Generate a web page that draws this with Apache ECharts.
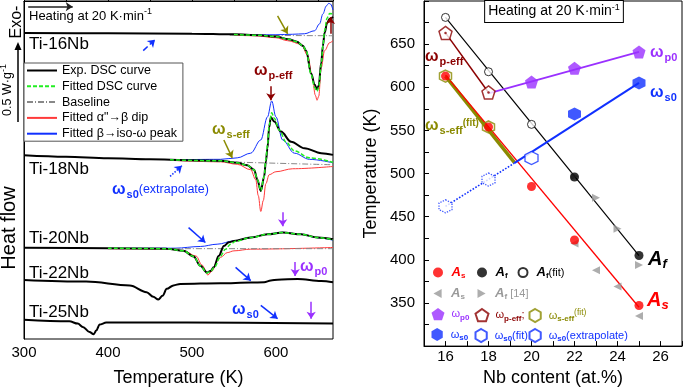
<!DOCTYPE html>
<html>
<head>
<meta charset="utf-8">
<script src="https://cdn.jsdelivr.net/npm/echarts@6/dist/echarts.min.js"></script>
<style>
html,body{margin:0;padding:0;background:#fff;}
#main{width:685px;height:392px;}
</style>
</head>
<body>
<div id="main"></div>
<script>
// ---- left panel : DSC curves [T (K), heat flow a.u. (downward = endo)] ----
var hf16Exp  = [[300,32.3],[400,32.6],[500,33],[550,33.6],[580,34.5],[600,35.8],[615,38.5],[625,41],[632,45],[636,50],[642,73],[646,84],[649,89],[651,85],[654,62],[656,45],[658,32],[661,22],[664,18],[668,16]];
var hf16Fit  = [[550,33.8],[580,34.5],[600,35.8],[615,38.5],[625,41],[632,45],[636,50],[642,74],[646,87],[649,91],[651,87],[654,64],[656,45],[658,30],[661,17],[664,12.5],[668,13]];
var hf16Base = [[545,34.5],[668,35]];
var hf16Dip  = [[550,34.5],[575,35],[600,37],[614,40],[630,43.5],[638,55],[643,75],[647,95],[649,100],[651,96],[654,67],[658,50],[664,42],[668,40]];
var hf16Peak = [[550,34.3],[600,34],[620,33.5],[634,33],[646,30],[652,23],[656,13],[660,5],[663,2.3],[665,3],[668,9]];

var hf18Exp  = [[300,155.5],[350,157],[400,158.5],[450,159.5],[500,160.5],[534,161],[554,163],[566,165.5],[574,170],[578,180],[582,191.5],[586,177],[588,162],[590,148],[592,127],[594,117],[598,121.5],[606,131.5],[618,141.7],[634,148.3],[654,153.3],[668,155]];
var hf18Fit  = [[474,160],[534,161],[554,163],[566,165.5],[574,170],[578,180],[582,191],[586,177],[588,160],[590,145],[592,125],[595,112.7],[598,118],[604,130],[612,142],[622,151],[640,158],[668,162.5]];
var hf18Base = [[474,160.5],[668,165]];
var hf18Dip  = [[474,160.5],[534,162],[554,164.5],[570,170],[576,180],[579,196],[582,212],[585,201],[588,184],[592,175],[600,172],[620,169],[668,166.7]];
var hf18Peak = [[474,160],[534,159.5],[554,158],[570,153.3],[582,140],[590,116.7],[595,100.7],[600,116.7],[608,140],[622,153.3],[640,159.5],[668,163]];

var hf20Exp  = [[300,248.5],[400,249],[470,249.5],[490,251.7],[502,257.3],[510,266.7],[518,273.5],[522,272],[526,268.3],[532,256.7],[538,246.7],[544,243],[550,241.7],[570,238.3],[590,235],[608,233.3],[630,235],[650,238.3],[668,240]];
var hf20Fit  = [[400,249],[470,249.5],[490,251.7],[502,257.3],[510,266.7],[518,274],[522,272.5],[527,268],[534,257],[540,250],[546,245],[552,242],[570,238.3],[590,235],[608,233.3],[630,235],[650,238.3],[668,240.5]];
var hf20Base = [[400,249.5],[668,249.5]];
var hf20Dip  = [[400,249.5],[470,249.8],[490,251.5],[505,257],[512,266],[519,276],[524,272],[530,262],[534,258.3],[542,253.5],[550,251.7],[570,250],[668,248.3]];
var hf20Peak = [[400,249.3],[480,249],[510,247.3],[530,245],[550,241.7],[570,238.3],[590,235],[608,233],[630,235],[650,238.5],[668,241]];

var hf22Exp  = [[300,281],[374,282.7],[426,286.7],[446,293.3],[454,298],[460,300.7],[465,297],[470,290],[478,286.5],[486,285],[534,284.3],[570,283.7],[586,283.3],[594,281.5],[602,280.7],[626,280],[654,282],[668,283.3]];
var hf25Exp  = [[300,321],[354,322.7],[364,325],[370,328.3],[378,333.5],[383,335.7],[386,332],[390,326],[398,324],[494,324],[668,325]];

// arrows on the DSC plot: [T1, y1, T2, y2, colour, line type]
var dscArrows = [
  [305,5.7,358,5.7,'#222','solid'],
  [602,15,614,33,'#8a8a00','solid'],
  [665,33,665,16,'#8b0000','solid'],
  [442,50,456,39,'#1030ff','dashed'],
  [594,86,594,100,'#8b0000','solid'],
  [538,140,548,158,'#8a8a00','solid'],
  [474,176.7,488,166,'#1030ff','dotted'],
  [496,228.3,516,243.3,'#1030ff','solid'],
  [608,212.7,608,227,'#9a30ff','solid'],
  [552,268.3,570,281.7,'#1030ff','solid'],
  [623,263,623,277,'#9a30ff','solid'],
  [582,306.7,602,320,'#1030ff','solid'],
  [642,303,642,320,'#9a30ff','solid']
];

// ---- right panel : temperatures vs Nb content ----
var nbAs     = [[16,613],[18,554],[20,485],[22,423],[25,347]];
var nbAf     = [[22,496],[25,405]];
var nbAfFit  = [[16,681],[18,618],[20,557]];
var refAs    = [[22,419],[23,388],[24,369],[25,335]];
var refAf    = [[22,497],[23,472],[24,436],[25,394]];
var wP0      = [[20,606],[22,622],[25,641]];
var wPeff    = [[16,663],[18,594]];
var wSeff    = [[16,613],[18,554]];
var wS0      = [[22,569],[25,605]];
var wS0fit   = [[20,518]];
var wS0ext   = [[16,462],[18,493]];
// fitted straight lines (end points)
var lineAf    = [[16,681],[25,405]];
var lineAs    = [[16,614],[25,345]];
var lineSeff  = [[16,613],[19.2,513]];
var linePeff  = [[16,663],[18,594]];
var lineP0    = [[18,593],[25,641]];
var lineS0    = [[19.2,512],[25,605]];
var lineS0ext = [[16,462],[19.2,512]];

var FONT = 'Liberation Sans, Arial, sans-serif';
var RED = '#ff0000', DRED = '#8b0000', OLIVE = '#8a8a00', PURPLE = '#9a30ff', BLUE = '#1030ff', GRAY = '#999999';
var HEX = 'path://M50,0 L93.3,25 L93.3,75 L50,100 L6.7,75 L6.7,25 Z';
var PENT = 'path://M50,0 L97.6,34.5 L79.4,90.5 L20.6,90.5 L2.4,34.5 Z';
var LTRI = 'path://M0,50 L90,0 L90,100 Z';
var RTRI = 'path://M90,50 L0,0 L0,100 Z';

var stExp  = {color:'#000', width:2};
var stFit  = {color:'#22ee22', width:1.5, type:[4,2]};
var stBase = {color:'#888', width:1, type:[6,2,1,2]};
var stDip  = {color:'#ff3a3a', width:1};
var stPeak = {color:'#1030ff', width:1};

var N_EXP = 'Exp. DSC curve', N_FIT = 'Fitted DSC curve', N_BASE = 'Baseline',
    N_DIP = 'Fitted α"→β dip', N_PEAK = 'Fitted β→iso-ω peak';

function curve(name, data, st, z){
  return {name:name, type:'line', xAxisIndex:0, yAxisIndex:0, data:data, symbol:'none',
    smooth:0.35, smoothMonotone:'x', lineStyle:st, itemStyle:{color:st.color}, z:z, silent:true};
}
function pts(name, data, symbol, size, itemStyle, z){
  return {name:name, type:'scatter', xAxisIndex:1, yAxisIndex:1, data:data, symbol:symbol,
    symbolSize:size, itemStyle:itemStyle, z:z, silent:true};
}
function fitLine(data, color, width, type, z){
  return {type:'line', xAxisIndex:1, yAxisIndex:1, data:data, symbol:'none',
    lineStyle:{color:color, width:width, type:type || 'solid'}, z:z, silent:true};
}

var series = [
  curve(N_PEAK, hf16Peak, stPeak, 2), curve(N_DIP, hf16Dip, stDip, 2), curve(N_BASE, hf16Base, stBase, 2),
  curve(N_EXP, hf16Exp, stExp, 3), curve(N_FIT, hf16Fit, stFit, 4),
  curve(N_PEAK, hf18Peak, stPeak, 2), curve(N_DIP, hf18Dip, stDip, 2), curve(N_BASE, hf18Base, stBase, 2),
  curve(N_EXP, hf18Exp, stExp, 3), curve(N_FIT, hf18Fit, stFit, 4),
  curve(N_PEAK, hf20Peak, stPeak, 2), curve(N_DIP, hf20Dip, stDip, 2), curve(N_BASE, hf20Base, stBase, 2),
  curve(N_EXP, hf20Exp, stExp, 3), curve(N_FIT, hf20Fit, stFit, 4),
  curve(N_EXP, hf22Exp, stExp, 3),
  curve(N_EXP, hf25Exp, stExp, 3),
  {type:'line', xAxisIndex:0, yAxisIndex:0, data:[], silent:true,
    markLine:{silent:true, symbol:['none','arrow'], symbolSize:7, label:{show:false},
      data:dscArrows.map(function(a){
        return [{coord:[a[0],a[1]], lineStyle:{color:a[4], type:a[5], width:1.5}}, {coord:[a[2],a[3]]}];
      })}},

  fitLine(lineSeff, OLIVE, 3.5, 'solid', 2),
  fitLine(lineAs, RED, 1.3, 'solid', 3),
  fitLine(lineAf, '#000', 1.2, 'solid', 3),
  fitLine(linePeff, DRED, 1.5, 'solid', 3),
  fitLine(lineP0, PURPLE, 1.8, 'solid', 3),
  fitLine(lineS0, BLUE, 2, 'solid', 3),
  fitLine(lineS0ext, BLUE, 1.6, 'dotted', 3),
  pts('refAs', refAs, LTRI, 8, {color:GRAY}, 4),
  pts('refAf', refAf, RTRI, 8, {color:GRAY}, 4),
  pts('wSeff', wSeff, HEX, 12, {color:'rgba(0,0,0,0)', borderColor:OLIVE, borderWidth:1.5}, 5),
  pts('As', nbAs, 'circle', 9, {color:RED}, 6),
  pts('Af', nbAf, 'circle', 9, {color:'#000'}, 6),
  pts('AfFit', nbAfFit, 'circle', 8, {color:'#fff', borderColor:'#000', borderWidth:1}, 6),
  pts('wPeff', wPeff, PENT, 13, {color:'#fff', borderColor:DRED, borderWidth:1.5}, 6),
  pts('', wPeff, 'circle', 2.5, {color:DRED}, 7),
  pts('wP0', wP0, PENT, 13, {color:PURPLE}, 6),
  pts('wS0', wS0, HEX, 13, {color:BLUE}, 6),
  pts('wS0fit', wS0fit, HEX, 13, {color:'#fff', borderColor:BLUE, borderWidth:1.3}, 6),
  pts('wS0ext', wS0ext, HEX, 13, {color:'#fff', borderColor:BLUE, borderWidth:1.3, borderType:'dotted'}, 6)
];

var legRich = {
  ai:{fontSize:13, fontStyle:'italic', fontWeight:'bold', fontFamily:FONT},
  ab:{fontSize:8, fontWeight:'bold', padding:[7,0,0,0], fontFamily:FONT},
  n:{fontSize:11, fontFamily:FONT},
  w:{fontSize:11, fontFamily:FONT},
  wb:{fontSize:8, fontWeight:'bold', padding:[7,0,0,0], fontFamily:FONT},
  sp:{fontSize:8.5, padding:[0,0,5,0], fontFamily:FONT}
};
function lg(name, cx, cy, size, color, label){
  return {left:cx - size/2, top:cy - 9, padding:0, itemWidth:size, itemHeight:size, selectedMode:false,
    data:[{name:name, textStyle:{color:color}}], formatter:label,
    textStyle:{fontFamily:FONT, fontSize:11, color:color, padding:[0,0,0,13.5 - size/2 - 5], rich:legRich}};
}

var legends = [
  {left:24, top:63, orient:'vertical', padding:[1,6,1,2], itemWidth:30, itemHeight:14, itemGap:2.8,
    borderColor:'#555', borderWidth:1, backgroundColor:'#fff', selectedMode:false,
    itemStyle:{opacity:0},
    data:[N_EXP, N_FIT, N_BASE, N_DIP, N_PEAK],
    textStyle:{fontFamily:FONT, fontSize:12.5, color:'#000'}},
  lg('As', 438, 275, 10, RED, '{ai|A}{ab|s}'),
  lg('Af', 482, 275, 10, '#000', '{ai|A}{ab|f}'),
  lg('AfFit', 522, 275, 9, '#000', '{ai|A}{ab|f}{n|(fit)}'),
  lg('refAs', 438, 296, 9, GRAY, '{ai|A}{ab|s}'),
  lg('refAf', 482, 296, 9, GRAY, '{ai|A}{ab|f}{n| [14]}'),
  lg('wP0', 438, 317, 13, PURPLE, '{w|ω}{wb|p0}'),
  lg('wPeff', 481, 317, 13, DRED, '{w|ω}{wb|p-eff}{n|;}'),
  lg('wSeff', 535, 317, 13, OLIVE, '{w|ω}{wb|s-eff}{sp|(fit)}'),
  lg('wS0', 438, 337, 13, BLUE, '{w|ω}{wb|s0}'),
  lg('wS0fit', 481, 337, 13, BLUE, '{w|ω}{wb|s0}{n|(fit)}'),
  lg('wS0ext', 535, 337, 13, BLUE, '{w|ω}{wb|s0}{n|(extrapolate)}')
];

var txtRich = {
  w:{fontSize:16, fontWeight:'bold', fontFamily:FONT},
  sub:{fontSize:11, fontWeight:'bold', padding:[9,0,0,1], fontFamily:FONT},
  n:{fontSize:12.5, fontFamily:FONT},
  sup:{fontSize:9, padding:[0,0,8,0], fontFamily:FONT},
  sp:{fontSize:10, fontWeight:'bold', padding:[0,0,5,0], fontFamily:FONT},
  A:{fontSize:20, fontWeight:'bold', fontStyle:'italic', fontFamily:FONT},
  As:{fontSize:13, fontWeight:'bold', fontStyle:'italic', padding:[10,0,0,0], fontFamily:FONT}
};
function label(x, y, text, color, size, extra){
  var st = {text:text, fill:color, fontSize:size || 15, fontFamily:FONT, rich:txtRich, align:'left', verticalAlign:'middle'};
  for (var k in extra) st[k] = extra[k];
  return {type:'text', x:x, y:y, z:50, silent:true, style:st};
}

var graphics = [
  label(29, 16, 'Heating at 20 K·min{sup|-1}', '#000', 13),
  label(29, 44, 'Ti-16Nb', '#000', 17),
  label(29, 169, 'Ti-18Nb', '#000', 17),
  label(29, 238, 'Ti-20Nb', '#000', 17),
  label(29, 273, 'Ti-22Nb', '#000', 17),
  label(29, 312.5, 'Ti-25Nb', '#000', 17),
  label(254, 71, '{w|ω}{sub|p-eff}', DRED),
  label(212, 130, '{w|ω}{sub|s-eff}', OLIVE),
  label(112, 190, '{w|ω}{sub|s0}{n|(extrapolate)}', BLUE),
  label(300, 267, '{w|ω}{sub|p0}', PURPLE),
  label(232, 310, '{w|ω}{sub|s0}', BLUE),
  {type:'text', x:17, y:22, rotation:Math.PI/2, silent:true, style:{text:'Exo-', fill:'#000', fontSize:16, fontFamily:FONT, align:'center', verticalAlign:'middle'}},
  {type:'text', x:8, y:90, rotation:Math.PI/2, silent:true, style:{text:'0.5 W·g{sup|-1}', rich:txtRich, fill:'#000', fontSize:12.5, fontFamily:FONT, align:'center', verticalAlign:'middle'}},
  {type:'line', silent:true, shape:{x1:18, y1:122, x2:18, y2:48}, style:{stroke:'#000', lineWidth:1.5}},
  {type:'polygon', silent:true, shape:{points:[[18,42],[14.5,50],[21.5,50]]}, style:{fill:'#000'}},
  {type:'text', x:9, y:228, rotation:Math.PI/2, silent:true, style:{text:'Heat flow', fill:'#000', fontSize:20, fontFamily:FONT, align:'center', verticalAlign:'middle'}},

  {type:'text', x:554, y:11.5, z:50, silent:true, style:{text:'Heating at 20 K·min{sup|-1}', rich:txtRich, fill:'#000', fontSize:14, fontFamily:FONT,
    align:'center', verticalAlign:'middle', borderColor:'#000', borderWidth:1, padding:[2,3,2,3], backgroundColor:'#fff'}},
  label(425, 57, '{w|ω}{sub|p-eff}', DRED),
  label(425, 126, '{w|ω}{sub|s-eff}{sp|(fit)}', OLIVE),
  label(650, 53, '{w|ω}{sub|p0}', PURPLE),
  label(650, 93, '{w|ω}{sub|s0}', BLUE),
  label(648, 259, '{A|A}{As|f}', '#000'),
  label(647, 300, '{A|A}{As|s}', RED)
];

var axisCommon = {
  axisLine:{lineStyle:{color:'#000', width:1}},
  axisTick:{inside:true, length:5, lineStyle:{color:'#000'}},
  splitLine:{show:false}
};

var option = {
  animation:false,
  backgroundColor:'#fff',
  textStyle:{fontFamily:FONT},
  grid:[
    {left:24, top:1, width:309, height:340.5, show:true, borderColor:'#000', borderWidth:1},
    {left:424, top:1, right:1, height:350, show:true, borderColor:'#000', borderWidth:1}
  ],
  legend:legends,
  xAxis:[
    Object.assign({gridIndex:0, type:'value', min:300, max:668, interval:50,
      axisLabel:{fontSize:15, color:'#000', margin:6, formatter:function(v){ return v % 100 === 0 ? v : ''; }},
      name:'Temperature (K)', nameLocation:'middle', nameGap:30, nameTextStyle:{fontSize:18, color:'#000'}}, axisCommon),
    Object.assign({gridIndex:1, type:'value', min:15, max:27, interval:1,
      axisLabel:{fontSize:15, color:'#000', margin:3, formatter:function(v){ return v % 2 === 0 ? v : ''; }},
      name:'Nb content (at.%)', nameLocation:'middle', nameGap:21, nameTextStyle:{fontSize:18, color:'#000'}}, axisCommon)
  ],
  yAxis:[
    {gridIndex:0, type:'value', min:0, max:340.5, inverse:true, axisLine:{lineStyle:{color:'#000'}},
      axisTick:{show:false}, axisLabel:{show:false}, splitLine:{show:false}},
    Object.assign({gridIndex:1, type:'value', min:300, max:700, interval:25,
      axisLabel:{fontSize:15, color:'#000', margin:9, formatter:function(v){ return (v % 50 === 0 && v > 300 && v < 700) ? v : ''; }},
      name:'Temperature (K)', nameLocation:'middle', nameGap:44, nameTextStyle:{fontSize:18, color:'#000'}}, axisCommon)
  ],
  graphic:graphics,
  series:series
};

var myChart = echarts.init(document.getElementById('main'));
myChart.setOption(option);
</script>
</body>
</html>
